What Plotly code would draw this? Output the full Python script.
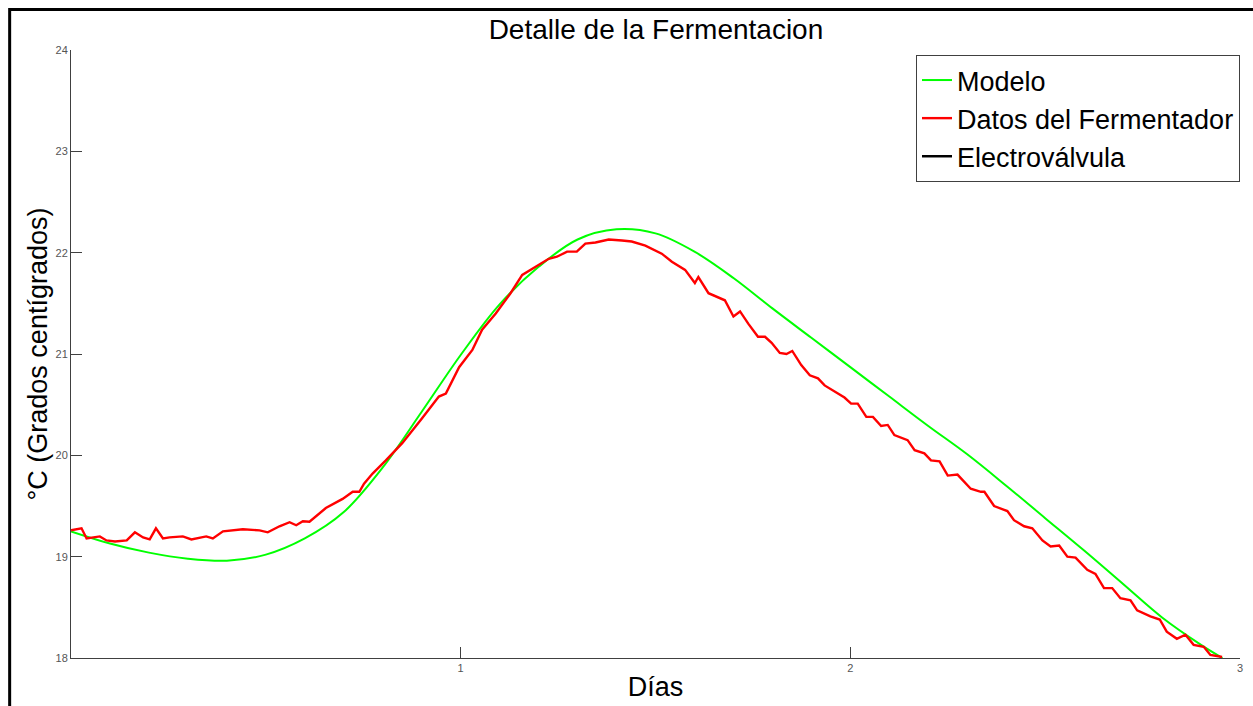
import plotly.graph_objects as go

# Modelo: temperatura simulada (días, °C)
model_days = [0.0, 0.1, 0.2, 0.3, 0.4, 0.5, 0.6, 0.7, 0.8, 0.9, 1.0, 1.1, 1.2, 1.3,
              1.4, 1.5, 1.6, 1.7, 1.8, 1.9, 2.0, 2.1, 2.2, 2.3, 2.4, 2.5, 2.6, 2.7,
              2.8, 2.9, 2.955]
model_temp = [19.25, 19.13, 19.04, 18.98, 18.96, 19.02, 19.18, 19.44, 19.88, 20.43,
              20.99, 21.49, 21.86, 22.13, 22.23, 22.19, 22.01, 21.75, 21.45, 21.16,
              20.87, 20.58, 20.29, 20.01, 19.70, 19.38, 19.06, 18.73, 18.40, 18.13,
              18.00]

# Datos del Fermentador: temperatura medida (días, °C)
data_days = [0.000, 0.027, 0.040, 0.074, 0.091, 0.113, 0.143, 0.164, 0.185, 0.202,
             0.218, 0.236, 0.253, 0.287, 0.309, 0.347, 0.364, 0.390, 0.441, 0.484,
             0.505, 0.535, 0.561, 0.578, 0.595, 0.612, 0.654, 0.697, 0.723, 0.740,
             0.752, 0.774, 0.808, 0.850, 0.900, 0.944, 0.962, 0.996, 1.030, 1.055,
             1.090, 1.128, 1.158, 1.188, 1.226, 1.247, 1.273, 1.298, 1.320, 1.346,
             1.380, 1.414, 1.439, 1.474, 1.490, 1.516, 1.542, 1.576, 1.601, 1.610,
             1.636, 1.678, 1.700, 1.717, 1.738, 1.763, 1.781, 1.798, 1.819, 1.836,
             1.851, 1.874, 1.896, 1.917, 1.934, 1.960, 1.985, 2.002, 2.019, 2.041,
             2.058, 2.079, 2.096, 2.113, 2.147, 2.165, 2.190, 2.207, 2.229, 2.250,
             2.275, 2.309, 2.335, 2.344, 2.369, 2.403, 2.420, 2.446, 2.467, 2.493,
             2.514, 2.536, 2.557, 2.578, 2.608, 2.629, 2.651, 2.672, 2.693, 2.719,
             2.736, 2.770, 2.794, 2.812, 2.838, 2.860, 2.881, 2.907, 2.924, 2.954]
data_temp = [19.26, 19.28, 19.18, 19.20, 19.16, 19.15, 19.16, 19.24, 19.19, 19.17,
             19.28, 19.18, 19.19, 19.20, 19.17, 19.20, 19.18, 19.25, 19.27, 19.26,
             19.24, 19.30, 19.34, 19.31, 19.35, 19.345, 19.48, 19.57, 19.64, 19.64,
             19.72, 19.82, 19.95, 20.12, 20.36, 20.58, 20.61, 20.87, 21.04, 21.24,
             21.40, 21.60, 21.78, 21.85, 21.94, 21.96, 22.01, 22.01, 22.09, 22.10,
             22.13, 22.12, 22.11, 22.07, 22.04, 21.99, 21.91, 21.83, 21.70, 21.76,
             21.60, 21.53, 21.37, 21.42, 21.30, 21.17, 21.17, 21.11, 21.01, 21.00,
             21.03, 20.89, 20.79, 20.76, 20.69, 20.63, 20.57, 20.51, 20.51, 20.38,
             20.38, 20.29, 20.30, 20.20, 20.15, 20.05, 20.02, 19.95, 19.94, 19.80,
             19.81, 19.67, 19.64, 19.64, 19.50, 19.45, 19.36, 19.30, 19.28, 19.16,
             19.10, 19.11, 19.00, 18.99, 18.87, 18.83, 18.69, 18.69, 18.59, 18.57,
             18.47, 18.41, 18.38, 18.26, 18.19, 18.23, 18.13, 18.11, 18.03, 18.01]

# Electroválvula: sin registros dentro del rango de temperatura mostrado
valve_days = [None]
valve_state = [None]

x_ticks = [1, 2, 3]
y_ticks = [18, 19, 20, 21, 22, 23, 24]

FONT = "Liberation Sans, Arial, sans-serif"
AXIS_COLOR = "#404040"

fig = go.Figure()
fig.add_trace(go.Scatter(x=model_days, y=model_temp, name="Modelo", mode="lines",
                         line=dict(color="#00ff00", width=2, shape="spline")))
fig.add_trace(go.Scatter(x=data_days, y=data_temp, name="Datos del Fermentador",
                         mode="lines", line=dict(color="#ff0000", width=2.4)))
fig.add_trace(go.Scatter(x=valve_days, y=valve_state, name="Electroválvula",
                         mode="lines", line=dict(color="#000000", width=2.5)))

fig.update_layout(
    width=1253, height=706,
    margin=dict(l=71, r=10, t=50, b=48),
    paper_bgcolor="white", plot_bgcolor="white",
    font=dict(family=FONT, color="black"),
    title=dict(text="Detalle de la Fermentacion", x=0.5235, xanchor="center",
               y=1 - 29 / 706, yanchor="middle",
               font=dict(size=28, family=FONT, color="black")),
    legend=dict(x=1.0, xanchor="right", y=0.9918, yanchor="top",
                bgcolor="white", bordercolor=AXIS_COLOR, borderwidth=1,
                font=dict(size=27, family=FONT, color="black"),
                tracegroupgap=0),
    shapes=[dict(type="rect", xref="paper", yref="paper",
                 x0=(9.5 - 71) / 1172, x1=1.2,
                 y0=-0.3, y1=(658 - 9.5) / 608,
                 line=dict(color="black", width=3), fillcolor="rgba(0,0,0,0)",
                 layer="above")],
)

fig.update_xaxes(range=[0, 3], tickvals=x_ticks, ticktext=[str(v) for v in x_ticks],
                 ticks="inside", ticklen=11, tickwidth=1, tickcolor=AXIS_COLOR,
                 showline=True, linecolor=AXIS_COLOR, linewidth=1,
                 showgrid=False, zeroline=False,
                 tickfont=dict(size=11, color="#555555", family=FONT),
                 title=dict(text="Días", standoff=3,
                            font=dict(size=27, family=FONT, color="black")))
fig.update_yaxes(range=[18, 24], tickvals=y_ticks, ticktext=[str(v) for v in y_ticks],
                 ticks="inside", ticklen=11, tickwidth=1, tickcolor=AXIS_COLOR,
                 showline=True, linecolor=AXIS_COLOR, linewidth=1,
                 showgrid=False, zeroline=False,
                 tickfont=dict(size=11, color="#555555", family=FONT),
                 title=dict(text="°C (Grados centígrados)", standoff=0,
                            font=dict(size=27, family=FONT, color="black")))

fig.write_html("out.html")
